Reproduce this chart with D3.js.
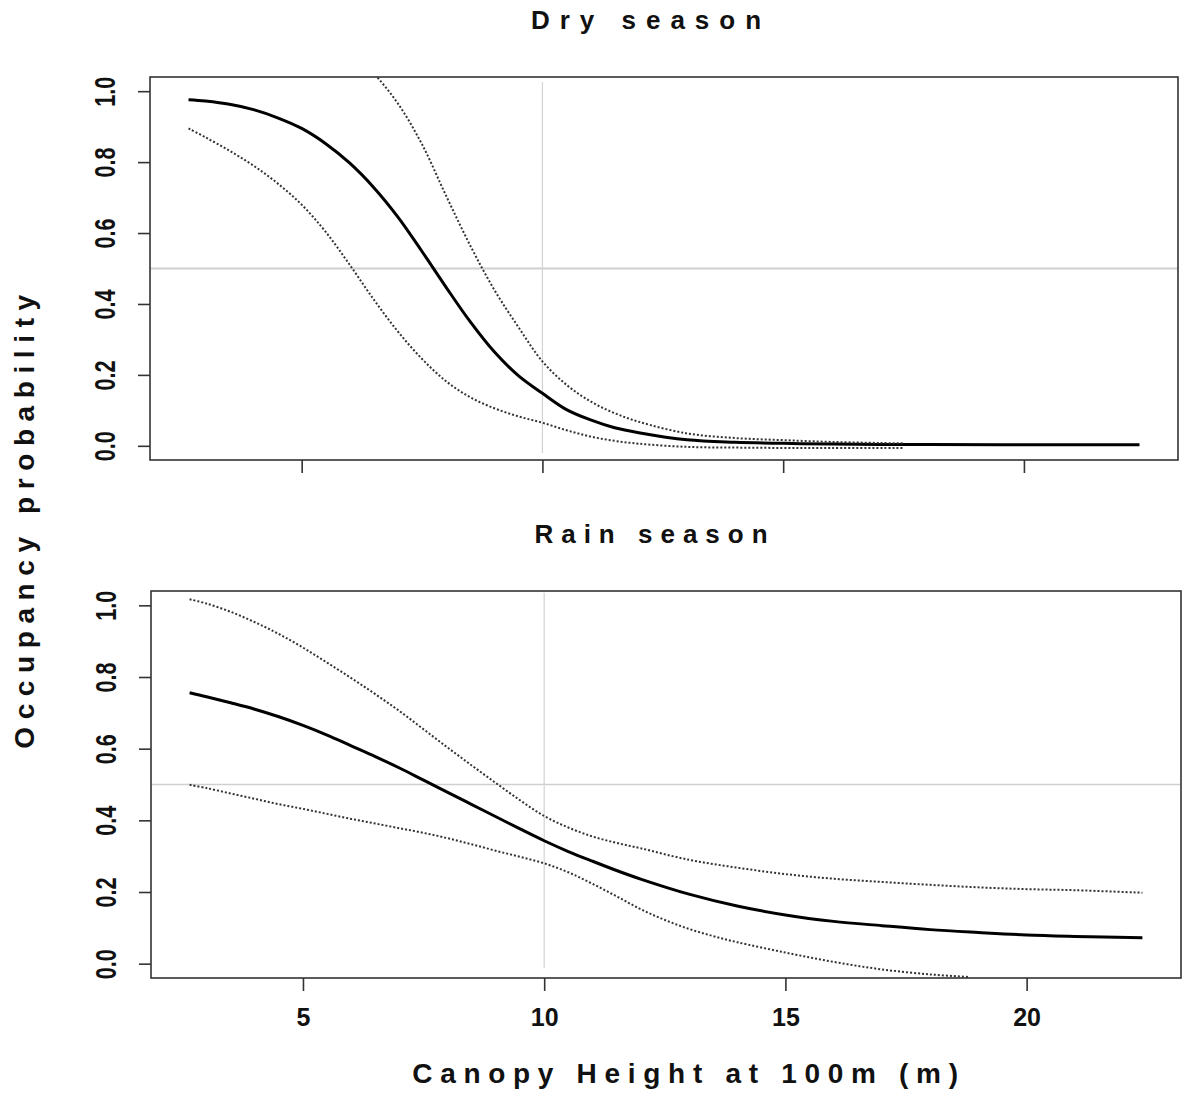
<!DOCTYPE html>
<html>
<head>
<meta charset="utf-8">
<script src="https://cdn.jsdelivr.net/npm/d3@7"></script>
<style>
  html, body { margin: 0; padding: 0; background: #fff; }
  svg { display: block; }
  text { font-family: "Liberation Sans", Arial, sans-serif; font-weight: bold; fill: #111; }
</style>
</head>
<body>
<svg id="chart" width="1185" height="1093"></svg>
<script>
// Canopy height (m) at which each curve was evaluated, and fitted occupancy
const dryX      = [2.65, 3.0, 3.5, 4.0, 4.5, 5.0, 5.5, 6.0, 6.5, 7.0, 7.5, 8.0, 8.5, 9.0, 9.5, 10.0, 10.5, 11.0, 11.5, 12.0, 13.0, 14.0, 15.0, 16.0, 17.0, 18.0, 20.0, 22.4];
const dryMean   = [0.976, 0.972, 0.963, 0.948, 0.925, 0.895, 0.852, 0.797, 0.728, 0.645, 0.548, 0.447, 0.350, 0.265, 0.198, 0.148, 0.102, 0.073, 0.051, 0.037, 0.017, 0.010, 0.007, 0.005, 0.004, 0.004, 0.003, 0.003];

const dryCiX    = [2.65, 4.0, 5.0, 6.0, 6.5, 7.0, 7.5, 8.0, 8.5, 9.0, 9.5, 10.0, 10.5, 11.0, 11.5, 12.0, 13.0, 14.0, 15.0, 16.0, 17.0, 17.5];
const dryUpper  = [1.26, 1.24, 1.20, 1.12, 1.05, 0.965, 0.850, 0.705, 0.565, 0.440, 0.335, 0.238, 0.172, 0.125, 0.092, 0.068, 0.035, 0.022, 0.016, 0.011, 0.008, 0.007];

const dryLowX   = [2.65, 3.0, 3.5, 4.0, 4.5, 5.0, 5.5, 6.0, 6.5, 7.0, 7.5, 8.0, 8.5, 9.0, 9.5, 10.0, 10.5, 11.0, 11.5, 12.0, 13.0, 14.0, 15.0, 16.0, 17.5];
const dryLower  = [0.895, 0.870, 0.832, 0.790, 0.740, 0.680, 0.603, 0.510, 0.412, 0.322, 0.245, 0.182, 0.137, 0.106, 0.083, 0.065, 0.044, 0.026, 0.014, 0.006, -0.003, -0.005, -0.006, -0.006, -0.006];

const rainX     = [2.65, 3.0, 3.5, 4.0, 4.5, 5.0, 5.5, 6.0, 6.5, 7.0, 7.5, 8.0, 8.5, 9.0, 9.5, 10.0, 10.5, 11.0, 11.5, 12.0, 13.0, 14.0, 15.0, 16.0, 17.0, 18.0, 19.0, 20.0, 21.0, 22.4];
const rainMean  = [0.756, 0.745, 0.728, 0.710, 0.689, 0.665, 0.638, 0.608, 0.578, 0.546, 0.512, 0.478, 0.444, 0.410, 0.376, 0.343, 0.313, 0.286, 0.260, 0.236, 0.194, 0.161, 0.136, 0.118, 0.106, 0.095, 0.087, 0.080, 0.076, 0.072];
const rainUpper = [1.017, 1.005, 0.982, 0.953, 0.920, 0.882, 0.840, 0.797, 0.752, 0.705, 0.654, 0.603, 0.553, 0.504, 0.456, 0.412, 0.380, 0.355, 0.337, 0.322, 0.290, 0.268, 0.250, 0.237, 0.228, 0.220, 0.213, 0.208, 0.205, 0.198];

const rainLowX  = [2.65, 3.0, 3.5, 4.0, 4.5, 5.0, 5.5, 6.0, 6.5, 7.0, 7.5, 8.0, 8.5, 9.0, 9.5, 10.0, 10.5, 11.0, 11.5, 12.0, 12.5, 13.0, 13.5, 14.0, 15.0, 16.0, 17.0, 18.0, 18.8];
const rainLower = [0.499, 0.490, 0.475, 0.460, 0.445, 0.432, 0.418, 0.404, 0.391, 0.378, 0.365, 0.350, 0.333, 0.315, 0.298, 0.280, 0.255, 0.223, 0.188, 0.152, 0.122, 0.097, 0.077, 0.060, 0.031, 0.005, -0.016, -0.030, -0.037];

// Axis ticks and reference lines
const xTicks = [5, 10, 15, 20];
const yTicks = [0, 0.2, 0.4, 0.6, 0.8, 1.0];
const refProb = 0.5;
const refHeight = 10;

const svg = d3.select("#chart");

const panels = [
  { id: "dry",  title: "Dry season",  titleX: 646, spacing: 10, box: { x0: 150, x1: 1178, y0: 77,  y1: 460 }, tickLabels: false, hLineW: 2,
    vSpan: [-0.02, 1.025],
    series: [
      { x: dryX,    y: dryMean,  kind: "mean" },
      { x: dryCiX,  y: dryUpper, kind: "ci" },
      { x: dryLowX, y: dryLower, kind: "ci" }
    ] },
  { id: "rain", title: "Rain season", titleX: 651, spacing: 8, box: { x0: 151, x1: 1181, y0: 591, y1: 978 }, tickLabels: true, hLineW: 1.6,
    vSpan: [-0.013, 1.035],
    series: [
      { x: rainX,    y: rainMean,  kind: "mean" },
      { x: rainX,    y: rainUpper, kind: "ci" },
      { x: rainLowX, y: rainLower, kind: "ci" }
    ] }
];

panels.forEach(p => {
  const b = p.box;
  const x = d3.scaleLinear().domain([1.85, 23.2]).range([b.x0, b.x1]);
  const y = d3.scaleLinear().domain([-0.04, 1.04]).range([b.y1, b.y0]);
  const g = svg.append("g").attr("class", "panel-" + p.id);

  g.append("clipPath").attr("id", "clip-" + p.id)
    .append("rect").attr("x", b.x0).attr("y", b.y0)
    .attr("width", b.x1 - b.x0).attr("height", b.y1 - b.y0);

  const plot = g.append("g").attr("clip-path", `url(#clip-${p.id})`);

  // reference lines
  plot.append("line")
    .attr("x1", b.x0).attr("x2", b.x1)
    .attr("y1", y(refProb)).attr("y2", y(refProb))
    .attr("stroke", "#cfcfcf").attr("stroke-width", p.hLineW);
  plot.append("line")
    .attr("x1", x(refHeight)).attr("x2", x(refHeight))
    .attr("y1", y(p.vSpan[0])).attr("y2", y(p.vSpan[1]))
    .attr("stroke", "#d2d2d2").attr("stroke-width", 1.2);

  const line = d3.line().x(d => x(d[0])).y(d => y(d[1])).curve(d3.curveCatmullRom.alpha(0.5));

  p.series.forEach(s => {
    const pts = s.x.map((v, i) => [v, s.y[i]]);
    const path = plot.append("path").datum(pts).attr("d", line).attr("fill", "none");
    if (s.kind === "mean") {
      path.attr("stroke", "#000").attr("stroke-width", 3).attr("stroke-linejoin", "round");
    } else {
      path.attr("stroke", "#333").attr("stroke-width", 2).attr("stroke-dasharray", "2,2");
    }
  });

  // frame
  g.append("rect")
    .attr("x", b.x0).attr("y", b.y0)
    .attr("width", b.x1 - b.x0).attr("height", b.y1 - b.y0)
    .attr("fill", "none").attr("stroke", "#333").attr("stroke-width", 1.6);

  // x axis ticks
  const xAxis = d3.axisBottom(x).tickValues(xTicks).tickSizeOuter(0).tickSizeInner(13)
    .tickFormat(p.tickLabels ? d3.format("d") : () => "");
  const xg = g.append("g").attr("transform", `translate(0,${b.y1})`).call(xAxis);
  xg.select(".domain").remove();
  xg.selectAll(".tick line").attr("stroke", "#333").attr("stroke-width", 1.6);
  xg.selectAll(".tick text")
    .attr("y", 0).attr("dy", 0)
    .attr("transform", "translate(0,48)")
    .style("font-size", "25px").style("font-family", "Liberation Sans, Arial, sans-serif")
    .style("font-weight", "bold").attr("fill", "#111");

  // y axis ticks with labels rotated along the axis
  const yAxis = d3.axisLeft(y).tickValues(yTicks).tickSizeOuter(0).tickSizeInner(12)
    .tickFormat(d3.format(".1f"));
  const yg = g.append("g").attr("transform", `translate(${b.x0},0)`).call(yAxis);
  yg.select(".domain").remove();
  yg.selectAll(".tick line").attr("stroke", "#333").attr("stroke-width", 1.6);
  yg.selectAll(".tick text")
    .attr("x", null).attr("dy", null)
    .attr("text-anchor", "middle")
    .attr("transform", "translate(-35,0) rotate(-90) scale(0.72,1)")
    .style("font-size", "30px").style("font-family", "Liberation Sans, Arial, sans-serif")
    .style("font-weight", "bold").attr("fill", "#111");

  // panel title
  svg.append("text")
    .attr("x", p.titleX + p.spacing / 2).attr("y", b.y0 - 48)
    .attr("text-anchor", "middle")
    .style("font-size", "26px").style("letter-spacing", p.spacing + "px")
    .text(p.title);
});

// shared axis titles
svg.append("text")
  .attr("x", 685 + 4).attr("y", 1083)
  .attr("text-anchor", "middle")
  .style("font-size", "28px").style("letter-spacing", "7.7px")
  .text("Canopy Height at 100m (m)");

svg.append("text")
  .attr("transform", "translate(34,518) rotate(-90)")
  .attr("text-anchor", "middle")
  .style("font-size", "28px").style("letter-spacing", "7.6px")
  .text("Occupancy probability");
</script>
</body>
</html>
